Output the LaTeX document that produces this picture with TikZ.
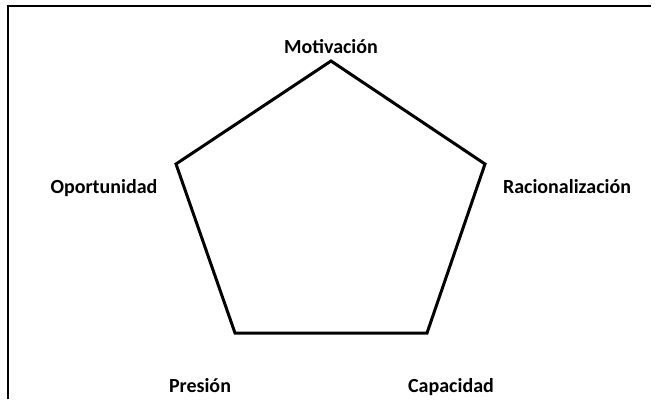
\documentclass[tikz,border=0pt]{standalone}
\usepackage{fontspec}
\setmainfont{Carlito}
\usetikzlibrary{positioning}
\tikzset{
  cornerlbl/.style ={font=\fontsize{20}{24}\selectfont\bfseries, anchor=base, inner sep=0pt},
  pentline/.style  ={draw=black, line width=3pt, line join=miter},
  frameline/.style ={draw=black, line width=2pt},
}

\begin{document}
\begin{tikzpicture}[x=1pt,y=-1pt]
        \useasboundingbox (0,0) rectangle (660,399);

        % frame
        \draw[frameline] (8,399) -- (8,6) -- (651,6);

        % corners of the pentagon
        \coordinate (mot) at (331,61);
        \coordinate (rac) at (485,164);
        \coordinate (cap) at (427,333);
        \coordinate (pre) at (235,333);
        \coordinate (opo) at (176,164);

        \draw[pentline] (mot) -- (rac) -- (cap) -- (pre) -- (opo) -- cycle;

        % labels
        \node[cornerlbl] (motlbl) at (331,53)  {Motivación};
        \node[cornerlbl] (raclbl) at (567,193) {Racionalización};
        \node[cornerlbl] (caplbl) at (451,392) {Capacidad};
        \node[cornerlbl] (prelbl) at (200,392) {Presión};
        \node[cornerlbl] (opolbl) at (104,193) {Oportunidad};
      \end{tikzpicture}
\end{document}
